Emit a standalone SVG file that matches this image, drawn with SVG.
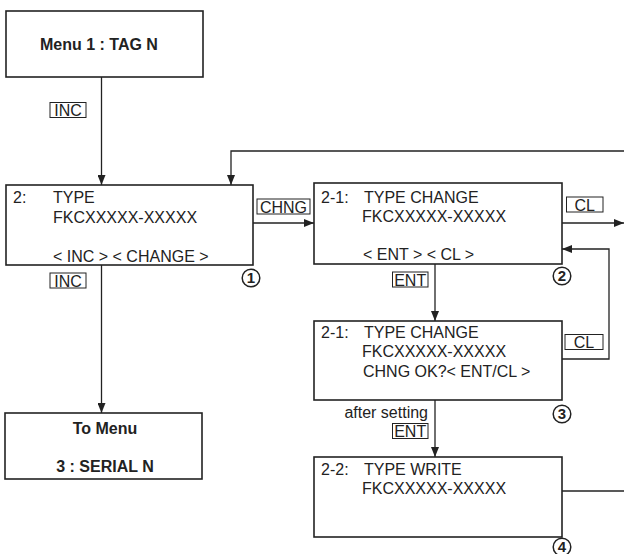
<svg xmlns="http://www.w3.org/2000/svg" width="624" height="554" viewBox="0 0 624 554">
<style>
.box{fill:#fff;stroke:#222;stroke-width:1.6}
.lbl{fill:#fff;stroke:#222;stroke-width:1}
.t{font-family:"Liberation Sans",Arial,sans-serif;font-size:16px;fill:#222}
.b{font-family:"Liberation Sans",Arial,sans-serif;font-size:16px;font-weight:bold;fill:#222}
.c{fill:#fff;stroke:#222;stroke-width:1.5}
.cn{font-family:"Liberation Sans",Arial,sans-serif;font-size:15px;font-weight:bold;fill:#222;text-anchor:middle}
.ln{fill:none;stroke:#222;stroke-width:1.3}
</style>
<defs>
<marker id="ah" viewBox="0 0 10 8" refX="10" refY="4" markerWidth="10" markerHeight="8" markerUnits="userSpaceOnUse" orient="auto">
<path d="M0,0 L10,4 L0,8 Z" fill="#222"/>
</marker>
</defs>
<g id="connectors">
<path class="ln" d="M101.5,77 V185" marker-end="url(#ah)"/>
<path class="ln" d="M624,151 H231 V185" marker-end="url(#ah)"/>
<path class="ln" d="M253,223 H314" marker-end="url(#ah)"/>
<path class="ln" d="M562,223 H624" marker-end="url(#ah)"/>
<path class="ln" d="M562,359 H609 V249 H562" marker-end="url(#ah)"/>
<path class="ln" d="M435,264 V321" marker-end="url(#ah)"/>
<path class="ln" d="M435,400 V457" marker-end="url(#ah)"/>
<path class="ln" d="M101.5,265 V413" marker-end="url(#ah)"/>
<path class="ln" d="M562,491 H624"/>
<g id="lbl-inc1"><rect class="lbl" x="50" y="102.5" width="36" height="15"/><text class="t" x="68" y="116" text-anchor="middle">INC</text></g>
<g id="lbl-inc2"><rect class="lbl" x="50" y="273" width="36" height="15"/><text class="t" x="68" y="286.5" text-anchor="middle">INC</text></g>
<g id="lbl-chng"><rect class="lbl" x="257" y="199" width="53" height="15"/><text class="t" x="283.5" y="212.5" text-anchor="middle">CHNG</text></g>
<g id="lbl-cl1"><rect class="lbl" x="566.5" y="197" width="36.5" height="15"/><text class="t" x="584.7" y="210.5" text-anchor="middle">CL</text></g>
<g id="lbl-cl2"><rect class="lbl" x="565" y="334.5" width="38" height="15"/><text class="t" x="584" y="348" text-anchor="middle">CL</text></g>
<g id="lbl-ent1"><rect class="lbl" x="392.5" y="272" width="35.5" height="15"/><text class="t" x="410.2" y="285.5" text-anchor="middle">ENT</text></g>
<g id="lbl-ent2"><text class="t" x="428" y="418" text-anchor="end">after setting</text><rect class="lbl" x="392.5" y="423.5" width="35.5" height="15"/><text class="t" x="410.2" y="437" text-anchor="middle">ENT</text></g>
</g>
<g id="menu1">
<rect class="box" x="6" y="11" width="197" height="66"/>
<text class="b" x="40" y="50">Menu 1 : TAG N</text>
</g>
<g id="node1">
<rect class="box" x="6" y="185" width="247" height="80"/>
<text class="t" x="13" y="203">2:</text>
<text class="t" x="53" y="203">TYPE</text>
<text class="t" x="53" y="223">FKCXXXXX-XXXXX</text>
<text class="t" x="53" y="262">&lt; INC &gt; &lt; CHANGE &gt;</text>
<circle class="c" cx="251" cy="278" r="8.8"/><text class="cn" x="251" y="283.3">1</text>
</g>
<g id="node2">
<rect class="box" x="314" y="183" width="248" height="81"/>
<text class="t" x="321" y="203">2-1:</text>
<text class="t" x="364" y="203">TYPE CHANGE</text>
<text class="t" x="362" y="222">FKCXXXXX-XXXXX</text>
<text class="t" x="363" y="260">&lt; ENT &gt; &lt; CL &gt;</text>
<circle class="c" cx="562" cy="276" r="8.8"/><text class="cn" x="562" y="281.3">2</text>
</g>
<g id="node3">
<rect class="box" x="314" y="321" width="248" height="79"/>
<text class="t" x="321" y="338">2-1:</text>
<text class="t" x="364" y="338">TYPE CHANGE</text>
<text class="t" x="362" y="357">FKCXXXXX-XXXXX</text>
<text class="t" x="363" y="377">CHNG OK?&lt; ENT/CL &gt;</text>
<circle class="c" cx="562" cy="414" r="8.8"/><text class="cn" x="562" y="419.3">3</text>
</g>
<g id="node4">
<rect class="box" x="314" y="457" width="248" height="80"/>
<text class="t" x="321" y="475">2-2:</text>
<text class="t" x="364" y="475">TYPE WRITE</text>
<text class="t" x="362" y="494">FKCXXXXX-XXXXX</text>
<circle class="c" cx="562" cy="547" r="8.8"/><text class="cn" x="562" y="552.3">4</text>
</g>
<g id="menu3">
<rect class="box" x="5" y="413" width="197" height="66"/>
<text class="b" x="105" y="434" text-anchor="middle">To Menu</text>
<text class="b" x="105" y="472" text-anchor="middle">3 : SERIAL N</text>
</g>
</svg>
